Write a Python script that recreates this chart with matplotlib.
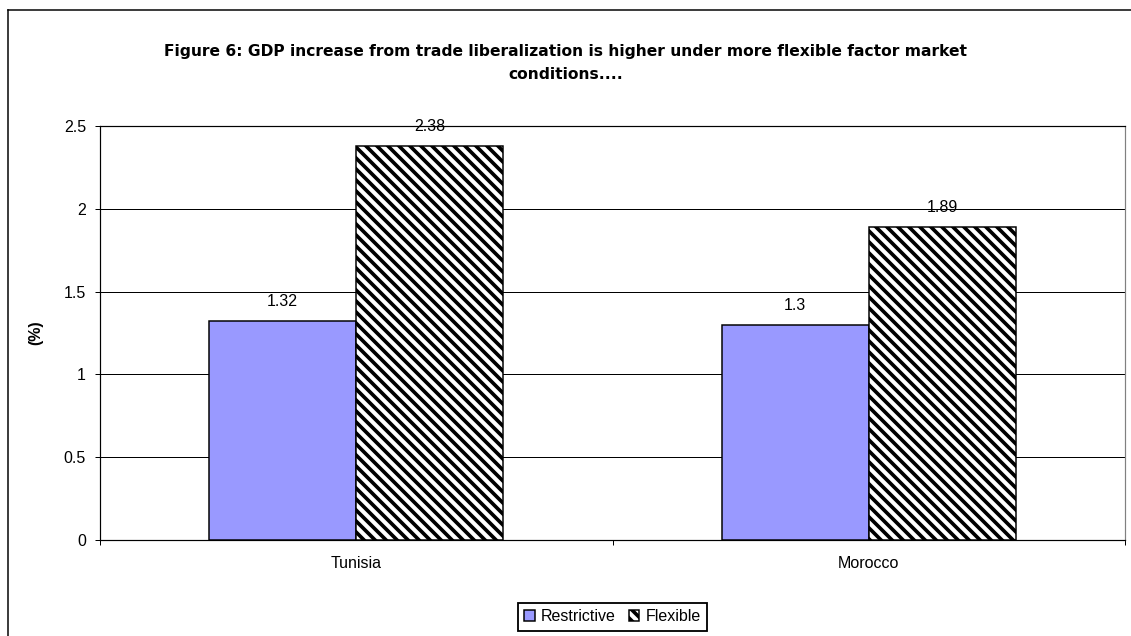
import matplotlib
matplotlib.use("Agg")
import matplotlib.pyplot as plt
from matplotlib.lines import Line2D
import numpy as np

categories = ["Tunisia", "Morocco"]
series_names = ["Restrictive", "Flexible"]
restrictive = [1.32, 1.30]
flexible = [2.38, 1.89]
restrictive_labels = ["1.32", "1.3"]
flexible_labels = ["2.38", "1.89"]
title_text = ("Figure 6: GDP increase from trade liberalization is higher under more flexible factor market\n"
              "conditions....")
yticks = [0, 0.5, 1, 1.5, 2, 2.5]
ytick_labels = ["0", "0.5", "1", "1.5", "2", "2.5"]

DPI = 132
W, H = 1131, 636
def px(v):
    return v * 72.0 / DPI

plt.rcParams['font.family'] = ['Liberation Sans', 'DejaVu Sans']
plt.rcParams['hatch.linewidth'] = 2.0
plt.rcParams['hatch.color'] = 'black'

fig = plt.figure(figsize=(W / DPI, H / DPI), dpi=DPI)
fig.patch.set_facecolor('white')
ax = fig.add_axes([100 / W, 1 - 540 / H, 1025 / W, 414 / H])

x = np.arange(len(categories))
bw = 0.287
b1 = ax.bar(x - bw / 2, restrictive, bw, color='#9999FF', edgecolor='black',
            linewidth=px(1.5), label=series_names[0], zorder=3)
b2 = ax.bar(x + bw / 2, flexible, bw, color='white', edgecolor='black',
            linewidth=px(1.5), hatch='\\\\\\\\', label=series_names[1], zorder=3)

fs = px(16)
ax.bar_label(b1, labels=restrictive_labels, padding=px(12), fontsize=fs, zorder=4)
ax.bar_label(b2, labels=flexible_labels, padding=px(12), fontsize=fs, zorder=4)

ax.set_xlim(-0.5, 1.5)
ax.set_ylim(0, 2.5)
ax.set_yticks(yticks)
ax.set_yticklabels(ytick_labels, fontsize=fs)
ax.tick_params(axis='y', direction='out', length=px(5), width=px(1), pad=px(9))

ax.set_xticks([-0.5, 0.5, 1.5])
ax.set_xticklabels(['', '', ''])
ax.set_xticks(x, minor=True)
ax.set_xticklabels(categories, minor=True, fontsize=fs)
ax.tick_params(axis='x', which='major', direction='out', length=px(5), width=px(1))
ax.tick_params(axis='x', which='minor', length=0, pad=px(16))

ax.grid(axis='y', color='black', linewidth=px(1), zorder=0)
ax.set_axisbelow(True)
for s in ax.spines.values():
    s.set_color('black')
    s.set_linewidth(px(1.2))
ax.spines['right'].set_color('#808080')

ax.set_ylabel('(%)', fontsize=fs, fontweight='bold', labelpad=px(20))

fig.text(566 / W, 1 - 63 / H, title_text, ha='center', va='center', fontsize=px(15.5),
         fontweight='bold', linespacing=1.62, family=['DejaVu Sans'])

fig.legend(handles=[b1, b2], labels=series_names, loc='upper center',
           bbox_to_anchor=(612.5 / W, 1 - 603 / H), ncol=2, fontsize=fs,
           frameon=True, fancybox=False, edgecolor='black', framealpha=1,
           handlelength=0.65, handleheight=0.65, handletextpad=0.4,
           columnspacing=0.8, borderpad=0.4, borderaxespad=0)

# outer chart border
fig.add_artist(Line2D([7.5 / W, 7.5 / W], [0, 1 - 9.5 / H], transform=fig.transFigure,
                      color='black', linewidth=px(1.5)))
fig.add_artist(Line2D([7.5 / W, 1], [1 - 9.5 / H, 1 - 9.5 / H], transform=fig.transFigure,
                      color='black', linewidth=px(1.5)))

fig.savefig('out.png', dpi=DPI, facecolor='white')
